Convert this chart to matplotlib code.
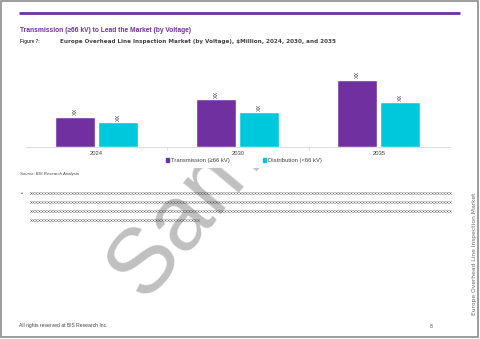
import matplotlib
matplotlib.use("Agg")
import matplotlib.pyplot as plt
from matplotlib.patches import Rectangle, Patch

# ---------------- data ----------------
years = ["2024", "2030", "2035"]
transmission = [28.8, 46.2, 65.8]
distribution = [23.2, 33.5, 43.5]
bar_labels_t = ["XX", "XX", "XX"]
bar_labels_d = ["XX", "XX", "XX"]
series_names = ["Transmission (\u226566 kV)", "Distribution (<66 kV)"]

title_text = "Transmission (\u226566 kV) to Lead the Market (by Voltage)"
fig_label = "Figure 7:"
fig_caption = "Europe Overhead Line Inspection Market (by Voltage), $Million, 2024, 2030, and 2035"
source_text = "Source: BIS Research Analysis"
side_text = "Europe Overhead Line Inspection Market"
footer_text = "All rights reserved at BIS Research Inc."
page_no = "8"
watermark = "Sample"
bullet_lines = ["X" * 141, "X" * 141, "X" * 141, "X" * 57]

PURPLE = "#7030A0"
CYAN = "#00C8DC"
W, H = 480, 339
plt.rcParams['font.family'] = ['Liberation Sans', 'DejaVu Sans']

fig = plt.figure(figsize=(W / 100, H / 100), dpi=100)
fig.patch.set_facecolor("white")

# background axes in pixel coordinates
bg = fig.add_axes([0, 0, 1, 1])
bg.set_xlim(0, W)
bg.set_ylim(H, 0)
bg.axis("off")

renderer = fig.canvas.get_renderer()


def fit_text(x, y, s, target, size0, vertical=False, **kw):
    t = bg.text(x, y, s, fontsize=size0, **kw)
    for _ in range(3):
        ext = t.get_window_extent(renderer)
        w = ext.height if vertical else ext.width
        if w > 0:
            t.set_fontsize(t.get_fontsize() * target / w)
    return t

# watermark, hidden by the white page area above y=168
bg.text(226, 166, watermark, fontsize=66, color="#c0c0c0", rotation=50,
        rotation_mode="anchor", ha="center", va="center", zorder=1)
bg.add_patch(Rectangle((1.5, 1.5), 475, 166.5, facecolor="white", edgecolor="none", zorder=2))

# border
bg.add_patch(Rectangle((0.5, 0.5), 477.5, 336.5, fill=False, edgecolor="#8c8c8c", lw=1.2, zorder=5))
# purple rule
bg.plot([19, 460], [13.3, 13.3], color=PURPLE, lw=2.0, solid_capstyle="butt", zorder=3)

fit_text(19.5, 30.5, title_text, 171, 5.5, color=PURPLE, fontweight="bold", va="center", zorder=3)
fit_text(19.5, 42, fig_label, 20, 4, color="#404040", fontweight="bold", va="center", zorder=3)
fit_text(60, 42, fig_caption, 274, 4, color="#404040", fontweight="bold", va="center",
         family=["DejaVu Sans"], zorder=3)
fit_text(20, 174, source_text, 59, 3, color="#404040", style="italic", va="center", zorder=3)

bg.text(20.5, 194, "\u2022", fontsize=4, color="#404040", va="center", zorder=3)
for i, line in enumerate(bullet_lines):
    tw = 424 * len(line) / len(bullet_lines[0])
    fit_text(30, 193.8 + 9 * i, line, tw, 3.2, color="#404040", va="center", zorder=3)

fit_text(474.5, 315, side_text, 123, 3.5, vertical=True, color="#6a6a6a", rotation=90,
         ha="center", va="bottom", zorder=3, family=["DejaVu Sans"])
fit_text(19, 326, footer_text, 89, 3.5, color="#404040", va="center", zorder=3)
bg.text(431, 326, page_no, fontsize=3.5, color="#404040", va="center", ha="center", zorder=3)

# chart axes
base_px, top_px, left_px, right_px = 146.5, 60, 26, 450
ax = fig.add_axes([left_px / W, 1 - base_px / H, (right_px - left_px) / W, (base_px - top_px) / H])
ax.set_facecolor("none")
ax.set_xlim(-0.5, 2.5)
ax.set_ylim(0, base_px - top_px)
xs = list(range(len(years)))
bw, off = 0.278, 0.152
bt = ax.bar([x - off for x in xs], transmission, bw, color=PURPLE, edgecolor="white", lw=0.3)
bd = ax.bar([x + off for x in xs], distribution, bw, color=CYAN, edgecolor="white", lw=0.3)
for bars, labs in ((bt, bar_labels_t), (bd, bar_labels_d)):
    for b, lab in zip(bars, labs):
        ax.annotate(lab, (b.get_x() + b.get_width() / 2, b.get_height()), xytext=(0, 2.5),
                    textcoords="offset pixels", rotation=90, ha="center", va="bottom",
                    fontsize=4, color="#404040")
for s in ("top", "right", "left"):
    ax.spines[s].set_visible(False)
ax.spines["bottom"].set_color("#d9d9d9")
ax.spines["bottom"].set_linewidth(0.6)
ax.set_yticks([])
ax.set_xticks(xs)
ax.set_xticklabels(years, fontsize=4.2, color="#404040")
ax.tick_params(axis="x", length=0, pad=3)
ax.set_xticks([0.5, 1.5], minor=True)
ax.tick_params(axis="x", which="minor", length=2.5, color="#d9d9d9", width=0.6)

handles = [Patch(color=PURPLE, label=series_names[0]), Patch(color=CYAN, label=series_names[1])]
fig.legend(handles=handles, loc="center", bbox_to_anchor=(244 / W, 1 - 160.5 / H), ncol=2,
           frameon=False, fontsize=4.2, handlelength=0.5, handleheight=0.5, handletextpad=0.3,
           columnspacing=5.8, labelcolor="#404040")

fig.savefig("out.png", dpi=100, facecolor="white")
